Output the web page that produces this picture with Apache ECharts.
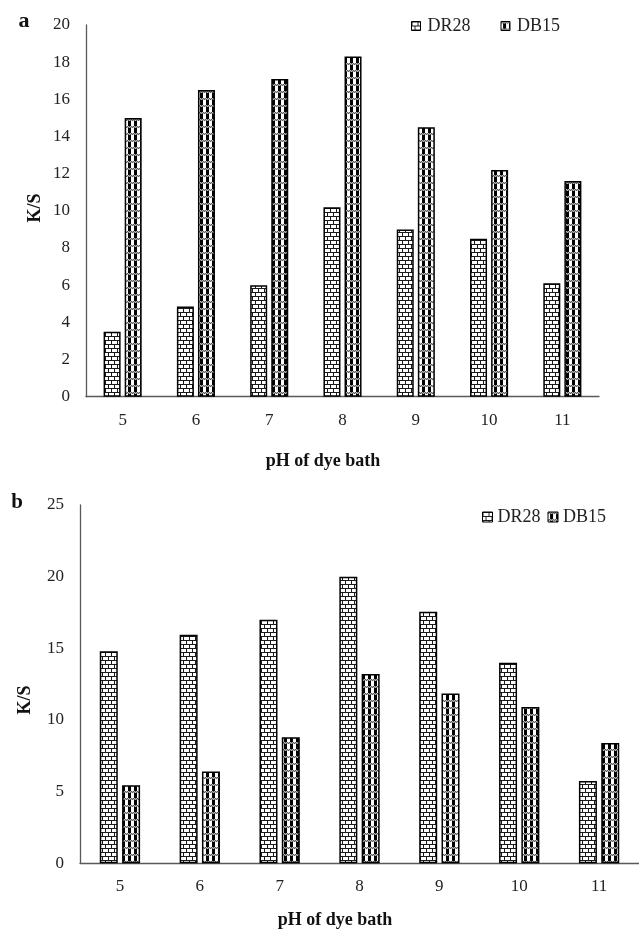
<!DOCTYPE html>
<html><head><meta charset="utf-8">
<script src="https://cdn.jsdelivr.net/npm/echarts@6/dist/echarts.min.js"></script>
<style>html,body{margin:0;padding:0;background:#fff}#c{width:639px;height:931px}</style>
</head><body><div id="c"></div>
<script>
// ---- data ----
const categories = ['5', '6', '7', '8', '9', '10', '11'];
const seriesNames = ['DR28', 'DB15'];
const dr28A = [3.5, 4.85, 6.0, 10.2, 9.0, 8.5, 6.1];
const db15A = [15.0, 16.5, 17.1, 18.3, 14.5, 12.2, 11.6];
const dr28B = [14.8, 15.95, 17.0, 20.0, 17.55, 14.0, 5.75];
const db15B = [5.45, 6.4, 8.8, 13.2, 11.85, 10.9, 8.4];
const yMaxA = 20, yStepA = 2;
const yMaxB = 25, yStepB = 5;
const xTitle = 'pH of dye bath';
const yTitle = 'K/S';
const panelLabels = ['a', 'b'];

// ---- patterns ----
function brickPattern() {
  const c = document.createElement('canvas'); c.width = 12; c.height = 8;
  const g = c.getContext('2d');
  g.fillStyle = '#fff'; g.fillRect(0, 0, 12, 8);
  g.fillStyle = '#1a1a1a';
  g.fillRect(0, 0, 12, 1); g.fillRect(0, 4, 12, 1);
  g.fillRect(0, 1, 1, 3); g.fillRect(6, 1, 1, 3);
  g.fillRect(3, 5, 1, 3); g.fillRect(9, 5, 1, 3);
  return c;
}
function checkPattern() {
  const c = document.createElement('canvas'); c.width = 6; c.height = 7;
  const g = c.getContext('2d');
  g.fillStyle = '#fff'; g.fillRect(0, 0, 6, 7);
  for (let x = 0; x < 6; x++) {
    g.fillStyle = (x % 2) ? '#5a5a5a' : '#b8b8b8'; g.fillRect(x, 0, 1, 1);
    g.fillStyle = (x % 2) ? '#b8b8b8' : '#5a5a5a'; g.fillRect(x, 1, 1, 1);
  }
  g.fillStyle = '#000';
  g.fillRect(2, 2, 3, 5);
  return c;
}
const brickFill = { image: brickPattern(), repeat: 'repeat' };
const checkFill = { image: checkPattern(), repeat: 'repeat' };

const FONT = '"Liberation Serif", "Times New Roman", serif';
const axisLineStyle = { show: true, lineStyle: { color: '#595959', width: 1.3 } };

function xAxis(gi) {
  return {
    type: 'category', gridIndex: gi, data: categories,
    axisLine: axisLineStyle, axisTick: { show: false },
    axisLabel: { fontFamily: FONT, fontSize: 17, color: '#222', margin: 15 }
  };
}
function yAxis(gi, max, step) {
  return {
    type: 'value', gridIndex: gi, min: 0, max: max, interval: step,
    axisLine: axisLineStyle, axisTick: { show: false }, splitLine: { show: false },
    axisLabel: { fontFamily: FONT, fontSize: 17, color: '#222', margin: 16 }
  };
}
function bar(name, gi, data, fill, w) {
  return {
    type: 'bar', name: name, xAxisIndex: gi, yAxisIndex: gi, data: data,
    barWidth: w, barGap: '24%',
    itemStyle: { color: fill, borderColor: '#000', borderWidth: 1.5 }
  };
}
function txt(text, x, y, size, rot) {
  return {
    type: 'text', x: x, y: y, rotation: rot || 0,
    style: { text: text, font: 'bold ' + size + 'px ' + FONT, fill: '#111', align: 'center', verticalAlign: 'middle' }
  };
}

const chart = echarts.init(document.getElementById('c'), null, { renderer: 'canvas' });
chart.setOption({
  backgroundColor: '#fff',
  animation: false,
  grid: [
    { left: 86, top: 25, right: 40, height: 371.7 },
    { left: 80, top: 505, right: 0, height: 358.3 }
  ],
  xAxis: [xAxis(0), xAxis(1)],
  yAxis: [yAxis(0, yMaxA, yStepA), yAxis(1, yMaxB, yStepB)],
  legend: [
    { data: seriesNames, left: 411, top: 17, padding: 0, itemWidth: 9, itemHeight: 9, itemGap: 30,
      icon: 'rect', itemStyle: { borderWidth: 1 },
      textStyle: { fontFamily: FONT, fontSize: 18, color: '#222', padding: [0, 0, 0, 2] } },
    { data: seriesNames, left: 482, top: 508, padding: 0, itemWidth: 10, itemHeight: 10, itemGap: 7,
      icon: 'rect', itemStyle: { borderWidth: 1 },
      textStyle: { fontFamily: FONT, fontSize: 18, color: '#222' } }
  ],
  series: [
    bar(seriesNames[0], 0, dr28A, brickFill, 17),
    bar(seriesNames[1], 0, db15A, checkFill, 17),
    bar(seriesNames[0], 1, dr28B, brickFill, 18),
    bar(seriesNames[1], 1, db15B, checkFill, 18)
  ],
  graphic: [
    txt(panelLabels[0], 24, 21, 22),
    txt(panelLabels[1], 17, 503, 21),
    txt(yTitle, 35, 208, 18, Math.PI / 2),
    txt(yTitle, 25, 700, 18, Math.PI / 2),
    txt(xTitle, 323, 461, 18),
    txt(xTitle, 335, 920, 18)
  ]
});
</script>
</body></html>
